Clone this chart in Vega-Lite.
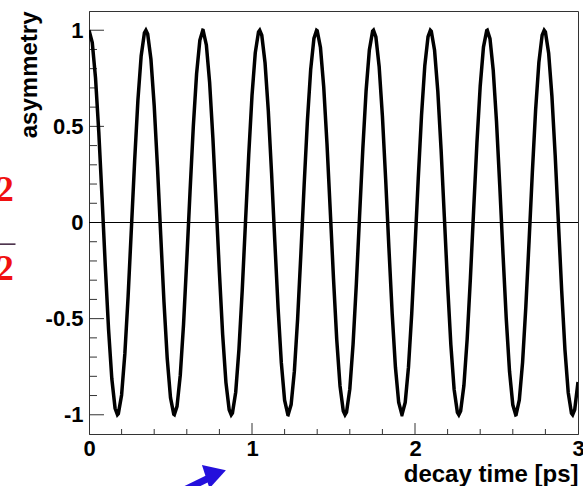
{
 "$schema": "https://vega.github.io/schema/vega-lite/v6.json",
 "width": 489,
 "height": 423,
 "autosize": {"type": "none"},
 "padding": {"left": 89, "top": 11, "right": 5, "bottom": 52},
 "background": "white",
 "config": {
  "view": {"stroke": "#333333", "strokeWidth": 1},
  "axis": {
   "grid": false,
   "ticks": false,
   "tickSize": 0,
   "domainColor": "#333333",
   "domainWidth": 1,
   "labelFont": "Liberation Sans",
   "labelFontWeight": "bold",
   "labelFontSize": 22,
   "labelColor": "black",
   "titleFont": "Liberation Sans",
   "titleFontWeight": "bold",
   "titleFontSize": 24,
   "titleColor": "black"
  }
 },
 "datasets": {
  "curve": [
   {"t":0.00,"a":1.0},{"t":0.02,"a":0.9359},{"t":0.04,"a":0.7518},{"t":0.06,"a":0.4713},{"t":0.08,"a":0.1304},
   {"t":0.10,"a":-0.2272},{"t":0.12,"a":-0.5556},{"t":0.14,"a":-0.8129},{"t":0.16,"a":-0.9661},{"t":0.18,"a":-0.9948},
   {"t":0.20,"a":-0.8968},{"t":0.22,"a":-0.6822},{"t":0.24,"a":-0.3837},{"t":0.26,"a":-0.0324},{"t":0.28,"a":0.3208},
   {"t":0.30,"a":0.6347},{"t":0.32,"a":0.8662},{"t":0.34,"a":0.9867},{"t":0.36,"a":0.9807},{"t":0.38,"a":0.8490},
   {"t":0.40,"a":0.6084},{"t":0.42,"a":0.2897},{"t":0.44,"a":-0.0659},{"t":0.46,"a":-0.4136},{"t":0.48,"a":-0.7075},
   {"t":0.50,"a":-0.9111},{"t":0.52,"a":-0.9978},{"t":0.54,"a":-0.9562},{"t":0.56,"a":-0.7941},{"t":0.58,"a":-0.5297},
   {"t":0.60,"a":-0.1934},{"t":0.62,"a":0.1636},{"t":0.64,"a":0.5002},{"t":0.66,"a":0.7734},{"t":0.68,"a":0.9472},
   {"t":0.70,"a":0.9994},{"t":0.72,"a":0.9235},{"t":0.74,"a":0.7292},{"t":0.76,"a":0.4405},{"t":0.78,"a":0.0971},
   {"t":0.80,"a":-0.2598},{"t":0.82,"a":-0.5831},{"t":0.84,"a":-0.8313},{"t":0.86,"a":-0.9737},{"t":0.88,"a":-0.9913},
   {"t":0.90,"a":-0.8826},{"t":0.92,"a":-0.6590},{"t":0.94,"a":-0.3536},{"t":0.96,"a":0.0012},{"t":0.98,"a":0.3525},
   {"t":1.00,"a":0.6603},{"t":1.02,"a":0.8824},{"t":1.04,"a":0.9916},{"t":1.06,"a":0.9736},{"t":1.08,"a":0.8307},
   {"t":1.10,"a":0.5816},{"t":1.12,"a":0.2575},{"t":1.14,"a":-0.0995},{"t":1.16,"a":-0.4437},{"t":1.18,"a":-0.7306},
   {"t":1.20,"a":-0.9242},{"t":1.22,"a":-0.9995},{"t":1.24,"a":-0.9469},{"t":1.26,"a":-0.7735},{"t":1.28,"a":-0.5002},
   {"t":1.30,"a":-0.1606},{"t":1.32,"a":0.1964},{"t":1.34,"a":0.5295},{"t":1.36,"a":0.7949},{"t":1.38,"a":0.9574},
   {"t":1.40,"a":0.9977},{"t":1.42,"a":0.9101},{"t":1.44,"a":0.7057},{"t":1.46,"a":0.4107},{"t":1.48,"a":0.0634},
   {"t":1.50,"a":-0.2921},{"t":1.52,"a":-0.6105},{"t":1.54,"a":-0.8501},{"t":1.56,"a":-0.9805},{"t":1.58,"a":-0.9868},
   {"t":1.60,"a":-0.8669},{"t":1.62,"a":-0.6339},{"t":1.64,"a":-0.3214},{"t":1.66,"a":0.0349},{"t":1.68,"a":0.3842},
   {"t":1.70,"a":0.6853},{"t":1.72,"a":0.8978},{"t":1.74,"a":0.9954},{"t":1.76,"a":0.9653},{"t":1.78,"a":0.8115},
   {"t":1.80,"a":0.5543},{"t":1.82,"a":0.2249},{"t":1.84,"a":-0.1331},{"t":1.86,"a":-0.4737},{"t":1.88,"a":-0.7529},
   {"t":1.90,"a":-0.9364},{"t":1.92,"a":-1.0},{"t":1.94,"a":-0.9362},{"t":1.96,"a":-0.7526},{"t":1.98,"a":-0.4731},
   {"t":2.00,"a":-0.1280},{"t":2.02,"a":0.2296},{"t":2.04,"a":0.5576},{"t":2.06,"a":0.8145},{"t":2.08,"a":0.9667},
   {"t":2.10,"a":0.9949},{"t":2.12,"a":0.8956},{"t":2.14,"a":0.6814},{"t":2.16,"a":0.3807},{"t":2.18,"a":0.0299},
   {"t":2.20,"a":-0.3243},{"t":2.22,"a":-0.6363},{"t":2.24,"a":-0.8680},{"t":2.26,"a":-0.9871},{"t":2.28,"a":-0.9801},
   {"t":2.30,"a":-0.8480},{"t":2.32,"a":-0.6069},{"t":2.34,"a":-0.2884},{"t":2.36,"a":0.0685},{"t":2.38,"a":0.4152},
   {"t":2.40,"a":0.7087},{"t":2.42,"a":0.9122},{"t":2.44,"a":0.9981},{"t":2.46,"a":0.9560},{"t":2.48,"a":0.7914},
   {"t":2.50,"a":0.5253},{"t":2.52,"a":0.1919},{"t":2.54,"a":-0.1661},{"t":2.56,"a":-0.5027},{"t":2.58,"a":-0.7751},
   {"t":2.60,"a":-0.9481},{"t":2.62,"a":-0.9993},{"t":2.64,"a":-0.9225},{"t":2.66,"a":-0.7273},{"t":2.68,"a":-0.4379},
   {"t":2.70,"a":-0.0947},{"t":2.72,"a":0.2624},{"t":2.74,"a":0.5854},{"t":2.76,"a":0.8332},{"t":2.78,"a":0.9746},
   {"t":2.80,"a":0.9910},{"t":2.82,"a":0.8802},{"t":2.84,"a":0.6566},{"t":2.86,"a":0.3497},{"t":2.88,"a":-0.0037},
   {"t":2.90,"a":-0.3556},{"t":2.92,"a":-0.6624},{"t":2.94,"a":-0.8840},{"t":2.96,"a":-0.9920},{"t":2.98,"a":-0.9727},
   {"t":3.00,"a":-0.8293},
   {"t":0.1745,"a":-1.0},{"t":0.3491,"a":1.0},{"t":0.5236,"a":-1.0},{"t":0.6981,"a":1.0},{"t":0.8727,"a":-1.0},
   {"t":1.0472,"a":1.0},{"t":1.2217,"a":-1.0},{"t":1.3963,"a":1.0},{"t":1.5708,"a":-1.0},{"t":1.7453,"a":1.0},
   {"t":1.9199,"a":-1.0},{"t":2.0944,"a":1.0},{"t":2.2689,"a":-1.0},{"t":2.4435,"a":1.0},{"t":2.6180,"a":-1.0},
   {"t":2.7925,"a":1.0},{"t":2.9671,"a":-1.0}
  ],
  "ticks": [
   {"t":0,"t2":0.092,"a":-1,"a2":-1},{"t":0,"t2":0.092,"a":-0.5,"a2":-0.5},{"t":0,"t2":0.092,"a":0,"a2":0},{"t":0,"t2":0.092,"a":0.5,"a2":0.5},{"t":0,"t2":0.092,"a":1,"a2":1},
   {"t":0,"t2":0.049,"a":-0.9,"a2":-0.9},{"t":0,"t2":0.049,"a":-0.8,"a2":-0.8},{"t":0,"t2":0.049,"a":-0.7,"a2":-0.7},{"t":0,"t2":0.049,"a":-0.6,"a2":-0.6},
   {"t":0,"t2":0.049,"a":-0.4,"a2":-0.4},{"t":0,"t2":0.049,"a":-0.3,"a2":-0.3},{"t":0,"t2":0.049,"a":-0.2,"a2":-0.2},{"t":0,"t2":0.049,"a":-0.1,"a2":-0.1},
   {"t":0,"t2":0.049,"a":0.1,"a2":0.1},{"t":0,"t2":0.049,"a":0.2,"a2":0.2},{"t":0,"t2":0.049,"a":0.3,"a2":0.3},{"t":0,"t2":0.049,"a":0.4,"a2":0.4},
   {"t":0,"t2":0.049,"a":0.6,"a2":0.6},{"t":0,"t2":0.049,"a":0.7,"a2":0.7},{"t":0,"t2":0.049,"a":0.8,"a2":0.8},{"t":0,"t2":0.049,"a":0.9,"a2":0.9},
   {"t":1,"t2":1,"a":-1.1,"a2":-1.043},{"t":2,"t2":2,"a":-1.1,"a2":-1.043},
   {"t":0.2,"t2":0.2,"a":-1.1,"a2":-1.074},{"t":0.4,"t2":0.4,"a":-1.1,"a2":-1.074},{"t":0.6,"t2":0.6,"a":-1.1,"a2":-1.074},{"t":0.8,"t2":0.8,"a":-1.1,"a2":-1.074},
   {"t":1.2,"t2":1.2,"a":-1.1,"a2":-1.074},{"t":1.4,"t2":1.4,"a":-1.1,"a2":-1.074},{"t":1.6,"t2":1.6,"a":-1.1,"a2":-1.074},{"t":1.8,"t2":1.8,"a":-1.1,"a2":-1.074},
   {"t":2.2,"t2":2.2,"a":-1.1,"a2":-1.074},{"t":2.4,"t2":2.4,"a":-1.1,"a2":-1.074},{"t":2.6,"t2":2.6,"a":-1.1,"a2":-1.074},{"t":2.8,"t2":2.8,"a":-1.1,"a2":-1.074}
  ],
  "glyphs": [
   {"t": -0.516, "a": 0.170, "txt": "2"},
   {"t": -0.516, "a": -0.240, "txt": "2"}
  ],
  "bar": [
   {"t": -0.547, "t2": -0.451, "a": -0.1126}
  ],
  "shaft": [
   {"t": 0.547, "t2": 0.762, "a": -1.407, "a2": -1.318}
  ],
  "head": [
   {"t": 0.778, "a": -1.305}
  ]
 },
 "resolve": {"axis": {"x": "independent", "y": "independent"}},
 "layer": [
  {
   "data": {"name": "ticks"},
   "mark": {"type": "rule", "color": "#333333", "strokeWidth": 1},
   "encoding": {
    "x": {"field": "t", "type": "quantitative",
     "scale": {"domain": [0, 3], "nice": false, "zero": false},
     "axis": {"orient": "bottom", "values": [0, 1, 2, 3], "labelPadding": 4, "labelFlush": false,
      "title": "decay time [ps]", "titleAnchor": "end", "titlePadding": 3}},
    "x2": {"field": "t2"},
    "y": {"field": "a", "type": "quantitative",
     "scale": {"domain": [-1.1, 1.1], "nice": false, "zero": false},
     "axis": {"orient": "left", "values": [-1, -0.5, 0, 0.5, 1], "labelPadding": 6,
      "format": "~g", "labelExpr": "replace(datum.label, '\u2212', '-')",
      "title": "asymmetry", "titleAnchor": "end", "titlePadding": 4}},
    "y2": {"field": "a2"}
   }
  },
  {
   "data": {"values": [{"z": 0}]},
   "mark": {"type": "rule", "color": "black", "strokeWidth": 1},
   "encoding": {"y": {"field": "z", "type": "quantitative", "axis": null}}
  },
  {
   "data": {"name": "curve"},
   "mark": {"type": "line", "color": "black", "strokeWidth": 3.5, "clip": true},
   "encoding": {
    "x": {"field": "t", "type": "quantitative", "axis": null},
    "y": {"field": "a", "type": "quantitative", "axis": null}
   }
  },
  {
   "data": {"name": "glyphs"},
   "mark": {"type": "text", "font": "Liberation Serif", "fontWeight": "bold", "fontSize": 35, "color": "#f01010", "align": "center", "baseline": "middle"},
   "encoding": {
    "x": {"field": "t", "type": "quantitative", "axis": null},
    "y": {"field": "a", "type": "quantitative", "axis": null},
    "text": {"field": "txt"}
   }
  },
  {
   "data": {"name": "bar"},
   "mark": {"type": "rule", "color": "#3a1e3a", "strokeWidth": 1.5},
   "encoding": {
    "x": {"field": "t", "type": "quantitative", "axis": null},
    "x2": {"field": "t2"},
    "y": {"field": "a", "type": "quantitative", "axis": null}
   }
  },
  {
   "data": {"name": "shaft"},
   "mark": {"type": "rule", "color": "#2410dc", "strokeWidth": 7},
   "encoding": {
    "x": {"field": "t", "type": "quantitative", "axis": null},
    "x2": {"field": "t2"},
    "y": {"field": "a", "type": "quantitative", "axis": null},
    "y2": {"field": "a2"}
   }
  },
  {
   "data": {"name": "head"},
   "mark": {"type": "point", "shape": "triangle-right", "filled": true, "color": "#2410dc", "size": 600, "angle": -18, "opacity": 1},
   "encoding": {
    "x": {"field": "t", "type": "quantitative", "axis": null},
    "y": {"field": "a", "type": "quantitative", "axis": null}
   }
  }
 ]
}
